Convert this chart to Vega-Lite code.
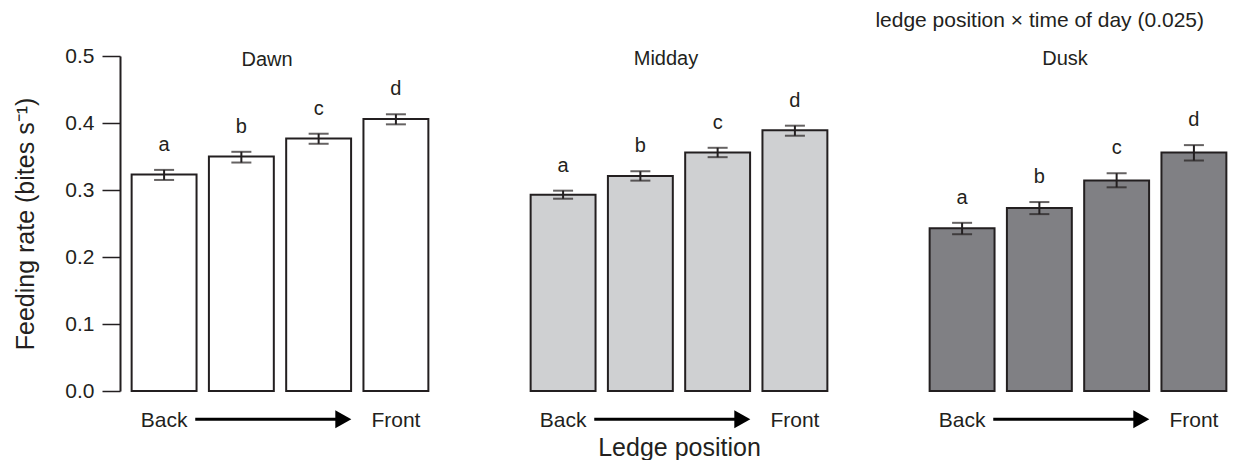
{
  "$schema": "https://vega.github.io/schema/vega-lite/v6.json",
  "padding": {"left": 13, "top": 10, "right": 0, "bottom": 0},
  "background": "white",
  "config": {
    "font": "Liberation Sans",
    "view": {"stroke": null},
    "axis": {"labelColor": "#231f20", "titleColor": "#231f20", "domainColor": "#231f20", "tickColor": "#231f20", "grid": false},
    "title": {"color": "#231f20", "fontWeight": "normal", "font": "Liberation Sans"}
  },
  "title": {"text": "ledge position × time of day (0.025)", "anchor": "end", "frame": "bounds", "fontSize": 21, "dx": -27, "offset": 14},
  "datasets": {
    "feeding": [
      {"time": "Dawn", "pos": "P1", "mean": 0.323, "lo": 0.315, "hi": 0.330, "group": "a"},
      {"time": "Dawn", "pos": "P2", "mean": 0.350, "lo": 0.341, "hi": 0.357, "group": "b"},
      {"time": "Dawn", "pos": "P3", "mean": 0.377, "lo": 0.369, "hi": 0.384, "group": "c"},
      {"time": "Dawn", "pos": "P4", "mean": 0.406, "lo": 0.398, "hi": 0.413, "group": "d"},
      {"time": "Midday", "pos": "P1", "mean": 0.293, "lo": 0.287, "hi": 0.299, "group": "a"},
      {"time": "Midday", "pos": "P2", "mean": 0.321, "lo": 0.314, "hi": 0.328, "group": "b"},
      {"time": "Midday", "pos": "P3", "mean": 0.356, "lo": 0.349, "hi": 0.363, "group": "c"},
      {"time": "Midday", "pos": "P4", "mean": 0.389, "lo": 0.381, "hi": 0.396, "group": "d"},
      {"time": "Dusk", "pos": "P1", "mean": 0.243, "lo": 0.234, "hi": 0.251, "group": "a"},
      {"time": "Dusk", "pos": "P2", "mean": 0.273, "lo": 0.264, "hi": 0.282, "group": "b"},
      {"time": "Dusk", "pos": "P3", "mean": 0.314, "lo": 0.304, "hi": 0.325, "group": "c"},
      {"time": "Dusk", "pos": "P4", "mean": 0.356, "lo": 0.344, "hi": 0.367, "group": "d"}
    ],
    "arrow": [{"from": "P1", "to": "P3", "level": -0.042}]
  },
  "spacing": 93,
  "hconcat": [
    {
      "width": 306, "height": 335,
      "title": {"text": "Dawn", "fontSize": 20, "anchor": "middle", "offset": -25, "dx": -13},
      "layer": [
        {
          "data": {"name": "feeding"},
          "transform": [{"filter": "datum.time === 'Dawn'"}],
          "layer": [
            {
              "mark": {"type": "bar", "fill": "#ffffff", "stroke": "#231f20", "strokeWidth": 2},
              "encoding": {
                "x": {"field": "pos", "type": "nominal", "scale": {"paddingInner": 0.16, "paddingOuter": 0.06},
                      "axis": {"title": null, "domain": false, "ticks": false, "labelAngle": 0, "labelFontSize": 21, "labelPadding": 18,
                               "labelExpr": "datum.value === 'P1' ? 'Back' : datum.value === 'P4' ? 'Front' : ''"}},
                "y": {"field": "mean", "type": "quantitative", "scale": {"domain": [0, 0.5], "nice": false},
                      "title": "Feeding rate (bites s⁻¹)",
                      "axis": {"titleFontSize": 25, "titleFontWeight": "normal", "titlePadding": 26,
                               "values": [0, 0.1, 0.2, 0.3, 0.4, 0.5], "format": ".1f", "labelFontSize": 21, "labelPadding": 8,
                               "tickSize": 18, "tickWidth": 1.5, "domainWidth": 2, "offset": 7}}
              }
            },
            {
              "mark": {"type": "errorbar", "color": "#231f20", "thickness": 2, "ticks": {"size": 20, "thickness": 2}},
              "encoding": {
                "x": {"field": "pos", "type": "nominal"},
                "y": {"field": "lo", "type": "quantitative", "title": "Feeding rate (bites s⁻¹)"},
                "y2": {"field": "hi"}
              }
            },
            {
              "mark": {"type": "text", "fontSize": 20, "color": "#231f20", "baseline": "alphabetic", "dy": -19},
              "encoding": {
                "x": {"field": "pos", "type": "nominal"},
                "y": {"field": "hi", "type": "quantitative", "title": "Feeding rate (bites s⁻¹)"},
                "text": {"field": "group"}
              }
            }
          ]
        },
        {
          "data": {"name": "arrow"},
          "layer": [
            {
              "mark": {"type": "rule", "color": "#000000", "strokeWidth": 3, "clip": false},
              "encoding": {
                "x": {"field": "from", "type": "nominal", "bandPosition": 0.98},
                "x2": {"field": "to", "bandPosition": 0.8},
                "y": {"field": "level", "type": "quantitative", "title": "Feeding rate (bites s⁻¹)"}
              }
            },
            {
              "mark": {"type": "point", "shape": "M-0.89,-1L0.89,0L-0.89,1Z", "size": 324, "filled": true, "color": "#000000", "opacity": 1, "clip": false},
              "encoding": {
                "x": {"field": "to", "type": "nominal", "bandPosition": 0.88},
                "y": {"field": "level", "type": "quantitative", "title": "Feeding rate (bites s⁻¹)"}
              }
            }
          ]
        }
      ]
    },
    {
      "width": 306, "height": 335,
      "title": {"text": "Midday", "fontSize": 20, "anchor": "middle", "offset": -13, "dx": -13},
      "layer": [
        {
          "data": {"name": "feeding"},
          "transform": [{"filter": "datum.time === 'Midday'"}],
          "layer": [
            {
              "mark": {"type": "bar", "fill": "#cfd0d2", "stroke": "#231f20", "strokeWidth": 2},
              "encoding": {
                "x": {"field": "pos", "type": "nominal", "scale": {"paddingInner": 0.16, "paddingOuter": 0.06},
                      "axis": {"title": "Ledge position", "titleFontSize": 25, "titleFontWeight": "normal", "titlePadding": 5,
                               "domain": false, "ticks": false, "labelAngle": 0, "labelFontSize": 21, "labelPadding": 18,
                               "labelExpr": "datum.value === 'P1' ? 'Back' : datum.value === 'P4' ? 'Front' : ''"}},
                "y": {"field": "mean", "type": "quantitative", "scale": {"domain": [0, 0.5], "nice": false}, "axis": null}
              }
            },
            {
              "mark": {"type": "errorbar", "color": "#231f20", "thickness": 2, "ticks": {"size": 20, "thickness": 2}},
              "encoding": {
                "x": {"field": "pos", "type": "nominal"},
                "y": {"field": "lo", "type": "quantitative"},
                "y2": {"field": "hi"}
              }
            },
            {
              "mark": {"type": "text", "fontSize": 20, "color": "#231f20", "baseline": "alphabetic", "dy": -19},
              "encoding": {
                "x": {"field": "pos", "type": "nominal"},
                "y": {"field": "hi", "type": "quantitative"},
                "text": {"field": "group"}
              }
            }
          ]
        },
        {
          "data": {"name": "arrow"},
          "layer": [
            {
              "mark": {"type": "rule", "color": "#000000", "strokeWidth": 3, "clip": false},
              "encoding": {
                "x": {"field": "from", "type": "nominal", "bandPosition": 0.98},
                "x2": {"field": "to", "bandPosition": 0.8},
                "y": {"field": "level", "type": "quantitative"}
              }
            },
            {
              "mark": {"type": "point", "shape": "M-0.89,-1L0.89,0L-0.89,1Z", "size": 324, "filled": true, "color": "#000000", "opacity": 1, "clip": false},
              "encoding": {
                "x": {"field": "to", "type": "nominal", "bandPosition": 0.88},
                "y": {"field": "level", "type": "quantitative"}
              }
            }
          ]
        }
      ]
    },
    {
      "width": 306, "height": 335,
      "title": {"text": "Dusk", "fontSize": 20, "anchor": "middle", "offset": -13, "dx": -13},
      "layer": [
        {
          "data": {"name": "feeding"},
          "transform": [{"filter": "datum.time === 'Dusk'"}],
          "layer": [
            {
              "mark": {"type": "bar", "fill": "#808084", "stroke": "#231f20", "strokeWidth": 2},
              "encoding": {
                "x": {"field": "pos", "type": "nominal", "scale": {"paddingInner": 0.16, "paddingOuter": 0.06},
                      "axis": {"title": null, "domain": false, "ticks": false, "labelAngle": 0, "labelFontSize": 21, "labelPadding": 18,
                               "labelExpr": "datum.value === 'P1' ? 'Back' : datum.value === 'P4' ? 'Front' : ''"}},
                "y": {"field": "mean", "type": "quantitative", "scale": {"domain": [0, 0.5], "nice": false}, "axis": null}
              }
            },
            {
              "mark": {"type": "errorbar", "color": "#231f20", "thickness": 2, "ticks": {"size": 20, "thickness": 2}},
              "encoding": {
                "x": {"field": "pos", "type": "nominal"},
                "y": {"field": "lo", "type": "quantitative"},
                "y2": {"field": "hi"}
              }
            },
            {
              "mark": {"type": "text", "fontSize": 20, "color": "#231f20", "baseline": "alphabetic", "dy": -19},
              "encoding": {
                "x": {"field": "pos", "type": "nominal"},
                "y": {"field": "hi", "type": "quantitative"},
                "text": {"field": "group"}
              }
            }
          ]
        },
        {
          "data": {"name": "arrow"},
          "layer": [
            {
              "mark": {"type": "rule", "color": "#000000", "strokeWidth": 3, "clip": false},
              "encoding": {
                "x": {"field": "from", "type": "nominal", "bandPosition": 0.98},
                "x2": {"field": "to", "bandPosition": 0.8},
                "y": {"field": "level", "type": "quantitative"}
              }
            },
            {
              "mark": {"type": "point", "shape": "M-0.89,-1L0.89,0L-0.89,1Z", "size": 324, "filled": true, "color": "#000000", "opacity": 1, "clip": false},
              "encoding": {
                "x": {"field": "to", "type": "nominal", "bandPosition": 0.88},
                "y": {"field": "level", "type": "quantitative"}
              }
            }
          ]
        }
      ]
    }
  ]
}
